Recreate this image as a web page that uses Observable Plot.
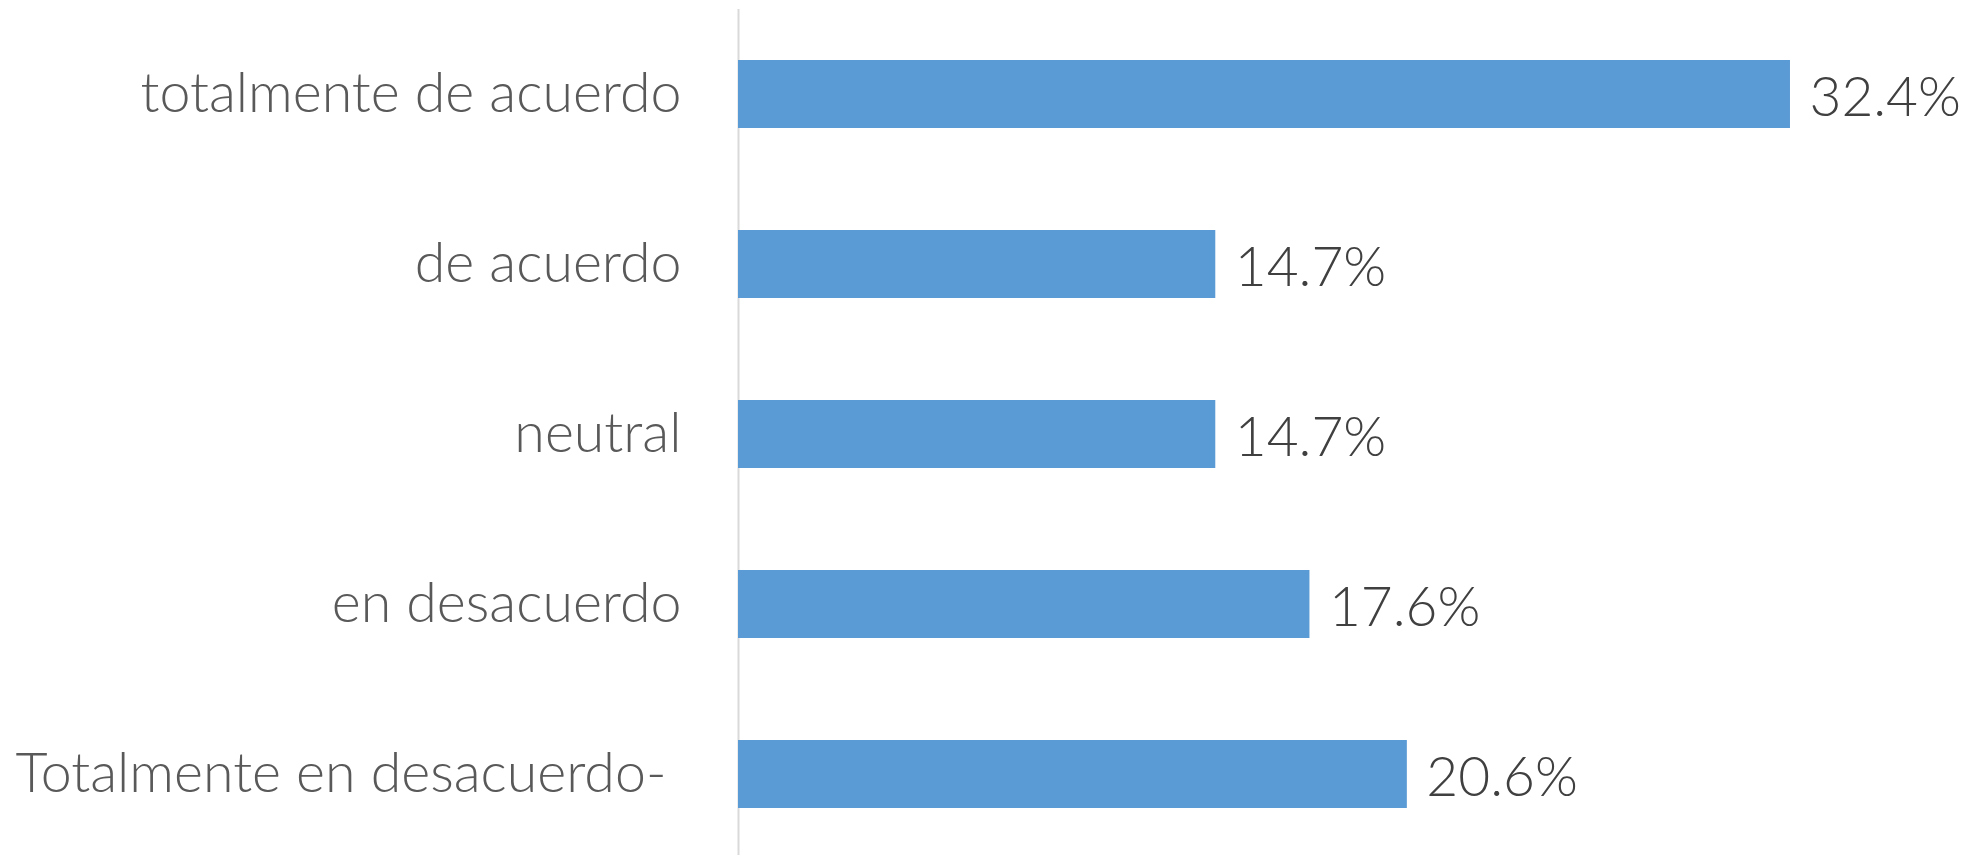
<!DOCTYPE html>
<html>
<head>
<meta charset="utf-8">
<script src="https://cdn.jsdelivr.net/npm/d3@7"></script>
<script src="https://cdn.jsdelivr.net/npm/@observablehq/plot@0.6"></script>
<style>
  html, body { margin: 0; padding: 0; background: #ffffff; }
  #chart svg { display: block; }
</style>
</head>
<body>
<div id="chart"></div>
<script>
const categories = [
  "totalmente de acuerdo",
  "de acuerdo",
  "neutral",
  "en desacuerdo",
  "Totalmente en desacuerdo-\u00a0"
];
const values = [32.4, 14.7, 14.7, 17.6, 20.6];
const valueLabels = ["32.4%", "14.7%", "14.7%", "17.6%", "20.6%"];

const data = categories.map((c, i) => ({category: c, value: values[i], label: valueLabels[i]}));

const chart = Plot.plot({
  width: 1982,
  height: 855,
  marginLeft: 738,
  marginRight: 10.2,
  marginTop: 9,
  marginBottom: 0,
  style: {fontFamily: "Lato, 'Open Sans', sans-serif", fontWeight: 300, color: "#595959", background: "#ffffff"},
  x: {domain: [0, 38], axis: null},
  y: {domain: categories, range: [9.3, 859.5], paddingInner: 0.6, paddingOuter: 0.3, label: null},
  marks: [
    Plot.ruleX([0], {stroke: "#D9D9D9", strokeWidth: 2}),
    Plot.barX(data, {x: "value", y: "category", fill: "#5B9BD5"}),
    Plot.axisY({tickSize: 0, tickPadding: 57, fontSize: 55.5, fill: "#595959", label: null}),
    Plot.text(data, {x: "value", y: "category", text: "label", textAnchor: "start", dx: 19, dy: 4, fontSize: 55, fill: "#404040"})
  ]
});
document.getElementById("chart").appendChild(chart);
</script>
</body>
</html>
